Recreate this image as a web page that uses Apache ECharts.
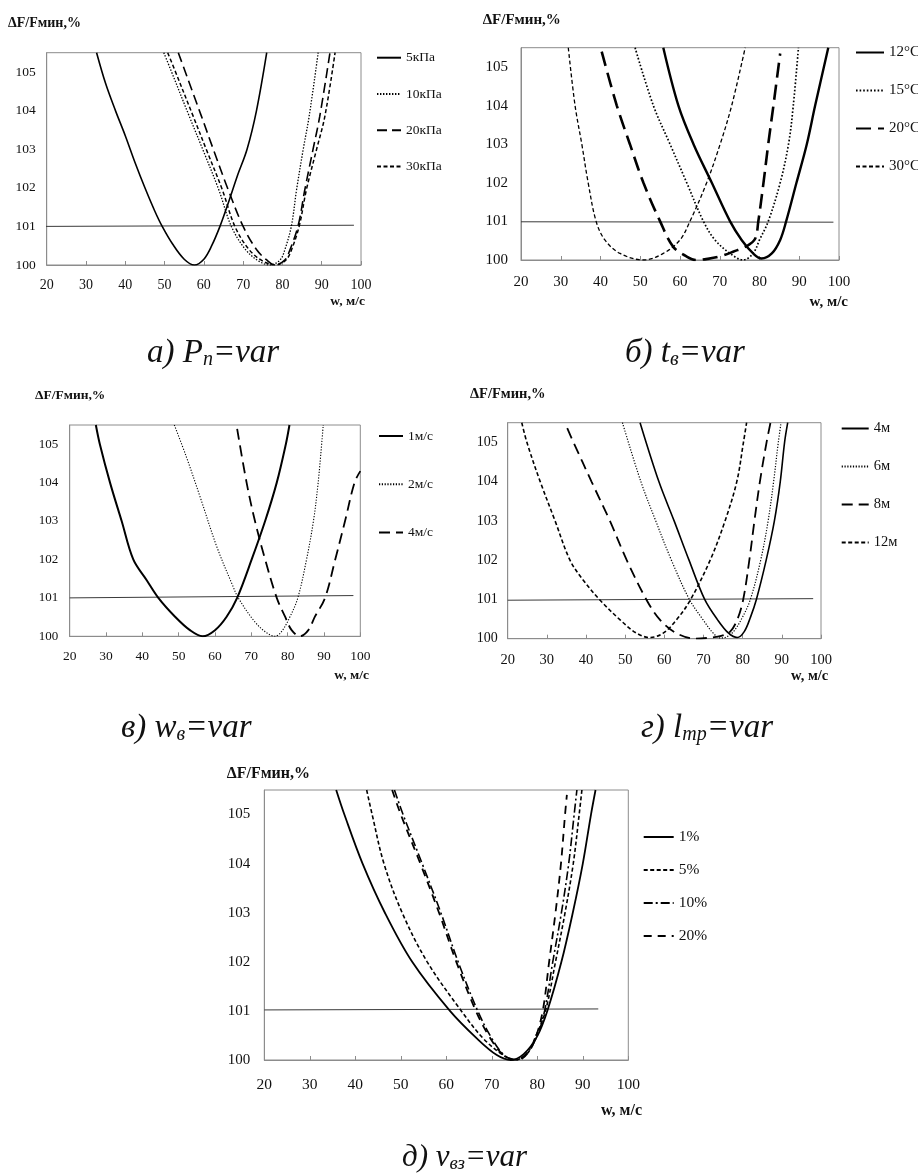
<!DOCTYPE html>
<html>
<head>
<meta charset="utf-8">
<script src="https://cdn.jsdelivr.net/npm/echarts@6/dist/echarts.min.js"></script>
<style>
  html, body { margin: 0; padding: 0; background: #fff; }
  #chart { width: 918px; height: 1173px; }
</style>
</head>
<body>
<div id="chart"></div>
<script>
// ΔF/Fмин (%) against air velocity w (м/с) for five varied parameters.

const xMin = 20, xMax = 100, xStep = 10;
const yMin = 100, yMax = 105.5, yStep = 1;
const yTitle = 'ΔF/Fмин,%';
const xTitle = 'w, м/с';

// а) Pп = var
const aNames = ['5кПа', '10кПа', '20кПа', '30кПа'];
const a5  = [[32.7,105.5],[35.0,104.7],[37.5,104.0],[40.0,103.35],[42.5,102.65],[45.0,102.0],[47.5,101.4],[49.4,101.0],[52.0,100.55],[55.0,100.15],[57.6,100.0],[60.0,100.15],[62.0,100.5],[64.1,101.0],[66.2,101.6],[68.5,102.3],[71.0,103.0],[73.4,104.0],[76.0,105.5]];
const a10 = [[49.8,105.5],[51.4,105.1],[56.3,103.85],[59.7,103.0],[63.8,101.95],[67.0,101.0],[70.6,100.4],[74.0,100.1],[76.8,100.0],[79.4,100.13],[80.6,100.39],[82.3,101.02],[83.6,101.95],[85.3,103.0],[86.8,103.85],[89.1,105.5]];
const a20 = [[53.5,105.5],[59.4,103.85],[62.4,103.0],[66.2,101.95],[70.0,101.0],[73.4,100.4],[76.0,100.13],[78.1,100.0],[80.6,100.13],[81.9,100.39],[84.0,101.02],[85.7,101.95],[87.8,103.0],[89.5,103.85],[92.1,105.5]];
const a30 = [[50.8,105.5],[52.4,105.1],[57.3,103.85],[60.6,103.0],[64.7,101.95],[67.9,101.0],[71.5,100.4],[75.0,100.1],[78.3,100.0],[80.9,100.13],[82.3,100.39],[84.3,101.02],[86.1,101.95],[88.7,103.0],[90.8,103.85],[93.4,105.5]];
const aLimit = [[19.0,101.0],[98.2,101.03]];

// б) tв = var
const bNames = ['12°C', '15°C', '20°C', '30°C'];
const b12 = [[55.8,105.5],[59.6,104.0],[63.4,103.0],[68.0,102.0],[72.6,101.0],[75.5,100.52],[78.4,100.17],[80.5,100.04],[83.1,100.17],[85.2,100.52],[86.7,101.0],[89.3,102.0],[91.9,103.0],[94.0,104.0],[97.3,105.5]];
const b15 = [[48.7,105.5],[53.3,104.0],[57.5,103.0],[61.7,102.0],[65.9,101.0],[68.8,100.52],[72.6,100.17],[75.9,100.0],[78.4,100.17],[80.0,100.52],[82.2,101.0],[85.2,102.0],[87.3,103.0],[88.5,104.0],[89.8,105.5]];
const b20 = [[40.3,105.4],[44.1,104.0],[47.4,103.0],[50.8,102.0],[55.0,101.0],[58.3,100.34],[61.7,100.09],[64.0,100.0],[67.0,100.03],[70.0,100.09],[73.5,100.22],[76.8,100.36],[78.9,100.55],[79.7,101.0],[81.0,102.0],[82.2,103.0],[83.5,104.0],[85.2,105.35]];
const b30 = [[31.9,105.5],[33.6,104.0],[35.3,103.0],[36.9,102.0],[38.9,101.0],[41.1,100.52],[44.9,100.17],[50.8,100.0],[55.8,100.17],[60.0,100.52],[62.5,101.0],[66.7,102.0],[70.1,103.0],[73.0,104.0],[76.4,105.5]];
const bLimit = [[20.0,100.99],[98.6,100.98]];

// в) wв = var
const cNames = ['1м/с', '2м/с', '4м/с'];
const c1 = [[27.2,105.5],[28.3,105.0],[31.1,104.0],[34.3,103.0],[37.5,102.0],[41.2,101.46],[44.4,101.0],[49.0,100.51],[53.1,100.16],[56.6,100.0],[60.0,100.16],[63.2,100.51],[66.1,101.0],[70.1,102.0],[73.8,103.0],[77.0,104.0],[79.5,105.0],[80.5,105.5]];
const c2 = [[48.8,105.5],[52.0,104.7],[55.9,103.63],[60.5,102.33],[65.0,101.29],[66.4,101.0],[70.6,100.42],[73.8,100.12],[76.5,100.0],[78.3,100.12],[80.6,100.5],[82.8,101.0],[85.2,102.0],[87.1,103.0],[88.4,104.0],[89.8,105.5]];
const c4 = [[66.1,105.4],[68.7,104.0],[71.0,103.0],[73.8,102.0],[77.0,101.0],[79.3,100.51],[81.1,100.16],[83.4,100.0],[85.7,100.16],[87.5,100.51],[90.3,101.0],[93.1,102.0],[95.8,103.0],[98.4,104.0],[100.0,104.3]];
const cLimit = [[20.0,101.0],[98.1,101.06]];

// г) lтр = var
const dNames = ['4м', '6м', '8м', '12м'];
const d4  = [[53.8,105.5],[58.6,104.0],[62.5,103.0],[66.3,102.0],[70.3,101.0],[73.6,100.48],[76.4,100.14],[78.6,100.03],[80.4,100.18],[82.0,100.55],[83.5,101.0],[86.0,102.0],[88.1,103.0],[89.6,104.0],[90.7,105.0],[91.5,105.5]];
const d6  = [[49.3,105.5],[54.0,104.0],[57.8,103.0],[61.8,102.0],[66.4,101.0],[69.9,100.48],[72.5,100.14],[74.3,100.02],[76.0,100.05],[77.8,100.2],[79.7,100.5],[81.9,100.98],[84.6,102.0],[86.5,103.0],[87.9,104.0],[89.1,105.0],[89.8,105.5]];
const d8  = [[35.2,105.36],[36.8,105.0],[41.4,104.0],[46.1,103.0],[50.4,102.0],[55.5,100.98],[58.9,100.48],[63.1,100.14],[68.0,100.0],[72.0,100.03],[74.5,100.07],[76.8,100.18],[78.6,100.48],[80.1,100.98],[81.7,102.0],[83.0,103.0],[84.4,104.0],[86.1,105.0],[87.1,105.5]];
const d12 = [[23.6,105.5],[24.9,105.0],[28.3,104.0],[32.1,103.0],[35.9,102.0],[39.3,101.49],[43.6,100.98],[48.7,100.48],[52.9,100.14],[56.3,100.03],[59.7,100.14],[63.1,100.48],[66.6,100.98],[71.7,102.0],[75.5,103.0],[78.5,104.0],[80.2,105.0],[81.0,105.5]];
const dLimit = [[20.0,100.98],[98.0,101.02]];

// д) vвз = var
const eNames = ['1%', '5%', '10%', '20%'];
const e1  = [[35.8,105.5],[37.6,105.0],[41.6,104.0],[46.5,103.0],[52.5,102.0],[60.8,101.0],[66.7,100.44],[71.1,100.1],[74.2,100.0],[77.0,100.12],[79.9,100.47],[82.2,101.0],[85.3,102.0],[87.8,103.0],[90.0,104.0],[91.8,105.0],[92.8,105.5]];
const e5  = [[42.5,105.5],[43.7,105.0],[46.3,104.0],[50.3,103.0],[55.8,102.0],[63.3,101.0],[68.1,100.44],[72.5,100.1],[75.0,100.0],[77.7,100.12],[79.5,100.45],[81.8,101.0],[84.0,102.0],[86.1,103.0],[87.9,104.0],[89.2,105.0],[89.8,105.5]];
const e10 = [[48.6,105.5],[50.5,105.0],[54.7,104.0],[58.8,103.0],[62.6,102.0],[66.9,101.0],[70.0,100.44],[72.7,100.1],[75.3,100.0],[77.8,100.15],[80.0,100.5],[81.6,101.0],[83.4,102.0],[85.3,103.0],[86.9,104.0],[88.1,105.0],[88.7,105.5]];
const e20 = [[48.1,105.5],[50.0,105.0],[54.3,104.0],[58.4,103.0],[62.2,102.0],[66.5,101.0],[69.7,100.44],[72.6,100.1],[75.8,100.0],[78.0,100.15],[79.6,100.45],[81.2,101.0],[82.6,102.0],[84.0,103.0],[85.2,104.0],[86.1,105.0],[86.5,105.4]];
const eLimit = [[20.0,101.02],[93.4,101.04]];

// Line looks
const SOLID = 'solid';
const DOT = [1.4, 1.6];
const SHORT = [4, 2.5];
const LONG = [10, 5];
const DASHDOT = [9, 3, 2, 3];

const FONT = '"Liberation Serif", "Times New Roman", serif';
const INK = '#111';
const FRAME = '#8c8c8c';

const panels = [
  {
    grid: { left: 46.7, top: 52.7, width: 314.3, height: 212.3 },
    yFont: 13.5, yMargin: 11, xFont: 14, xMargin: 13,
    curves: [
      { name: aNames[0], data: a5,  type: SOLID, width: 1.6 },
      { name: aNames[1], data: a10, type: DOT,   width: 1.3 },
      { name: aNames[2], data: a20, type: LONG,  width: 1.6 },
      { name: aNames[3], data: a30, type: SHORT, width: 1.5 }
    ],
    limit: aLimit, limitClip: false,
    legend: { left: 376, top: 50.7, itemWidth: 24, itemGap: 22.3, font: 13.5 },
    yTitle: { x: 8, y: 23.3, size: 14 },
    xTitle: { x: 365, y: 301.7, size: 13.5 },
    caption: { left: 147, top: 332, size: 33, rich: ['а) P', 'п', '=var'] }
  },
  {
    grid: { left: 521, top: 47.7, width: 318, height: 212.3 },
    yFont: 15, yMargin: 13, xFont: 15, xMargin: 15,
    curves: [
      { name: bNames[0], data: b12, type: SOLID,  width: 2.4 },
      { name: bNames[1], data: b15, type: [1.6, 2], width: 1.7 },
      { name: bNames[2], data: b20, type: [15, 7], width: 2.6 },
      { name: bNames[3], data: b30, type: [4, 2.5], width: 1.3 }
    ],
    limit: bLimit, limitClip: true,
    legend: { left: 855, top: 45, itemWidth: 28, itemGap: 23, font: 15 },
    yTitle: { x: 482.7, y: 20, size: 15 },
    xTitle: { x: 848, y: 302, size: 15 },
    caption: { left: 625, top: 332, size: 33, rich: ['б) t', 'в', '=var'] }
  },
  {
    grid: { left: 69.7, top: 425, width: 290.6, height: 211.3 },
    yFont: 13, yMargin: 11.5, xFont: 13.5, xMargin: 13,
    curves: [
      { name: cNames[0], data: c1, type: SOLID, width: 2 },
      { name: cNames[1], data: c2, type: [1.2, 1.6], width: 1.1 },
      { name: cNames[2], data: c4, type: [11, 6], width: 1.8 }
    ],
    limit: cLimit, limitClip: true,
    legend: { left: 378, top: 429, itemWidth: 24, itemGap: 34.3, font: 13.5 },
    yTitle: { x: 35, y: 396, size: 13.5 },
    xTitle: { x: 369, y: 676, size: 13.5 },
    caption: { left: 121, top: 707, size: 33, rich: ['в) w', 'в', '=var'] }
  },
  {
    grid: { left: 507.7, top: 422.7, width: 313.3, height: 216 },
    yFont: 14, yMargin: 10, xFont: 14.5, xMargin: 14,
    curves: [
      { name: dNames[0], data: d4,  type: SOLID, width: 1.6 },
      { name: dNames[1], data: d6,  type: [1.2, 1.6], width: 1.2 },
      { name: dNames[2], data: d8,  type: [11, 6], width: 1.8 },
      { name: dNames[3], data: d12, type: [4, 2.5], width: 1.6 }
    ],
    limit: dLimit, limitClip: true,
    legend: { left: 840.7, top: 421, itemWidth: 27, itemGap: 23, font: 14.5 },
    yTitle: { x: 470, y: 394, size: 14.5 },
    xTitle: { x: 828.3, y: 676.7, size: 14.5 },
    caption: { left: 641, top: 707, size: 33, rich: ['г) l', 'тр', '=var'] }
  },
  {
    grid: { left: 264.3, top: 790, width: 364, height: 270 },
    yFont: 15, yMargin: 14, xFont: 15.5, xMargin: 17,
    curves: [
      { name: eNames[0], data: e1,  type: SOLID,   width: 1.8 },
      { name: eNames[1], data: e5,  type: [4, 2.5], width: 1.6 },
      { name: eNames[2], data: e10, type: DASHDOT, width: 1.6 },
      { name: eNames[3], data: e20, type: [8, 6],  width: 1.8 }
    ],
    limit: eLimit, limitClip: true,
    legend: { left: 642.7, top: 829, itemWidth: 30, itemGap: 17, font: 15.5 },
    yTitle: { x: 226.7, y: 774, size: 16 },
    xTitle: { x: 642, y: 1110.7, size: 16 },
    caption: { left: 402, top: 1137, size: 31, rich: ['д) v', 'вз', '=var'] }
  }
];

const option = {
  backgroundColor: '#fff',
  animation: false,
  grid: [], xAxis: [], yAxis: [], series: [], legend: [], title: [], graphic: []
};

panels.forEach((p, i) => {
  option.grid.push(Object.assign({
    show: true, borderColor: FRAME, borderWidth: 1,
    backgroundColor: 'transparent', containLabel: false, outerBoundsMode: 'none'
  }, p.grid));

  option.xAxis.push({
    gridIndex: i, type: 'value', min: xMin, max: xMax, interval: xStep,
    axisLine: { show: true, lineStyle: { color: FRAME, width: 1 } },
    axisTick: { show: true, inside: true, length: 4, lineStyle: { color: FRAME } },
    splitLine: { show: false },
    axisLabel: { color: INK, fontFamily: FONT, fontSize: p.xFont, margin: p.xMargin,
                 showMinLabel: true, showMaxLabel: true, hideOverlap: false }
  });

  option.yAxis.push({
    gridIndex: i, type: 'value', min: yMin, max: yMax, interval: yStep,
    axisLine: { show: true, lineStyle: { color: FRAME, width: 1 } },
    axisTick: { show: false },
    splitLine: { show: false },
    axisLabel: { color: INK, fontFamily: FONT, fontSize: p.yFont, margin: p.yMargin,
                 formatter: v => (Number.isInteger(v) ? String(v) : '') }
  });

  option.series.push({
    name: 'limit-' + i, type: 'line', xAxisIndex: i, yAxisIndex: i,
    data: p.limit, symbol: 'none', silent: true, clip: p.limitClip,
    lineStyle: { color: '#3a3a3a', width: 1, type: 'solid' }, z: 1
  });

  p.curves.forEach(c => {
    option.series.push({
      name: c.name, type: 'line', xAxisIndex: i, yAxisIndex: i,
      data: c.data, symbol: 'none', showSymbol: false, smooth: 0.35, silent: true,
      lineStyle: { color: '#000', width: c.width, type: c.type, cap: 'butt' },
      itemStyle: { color: '#000' }, z: 3
    });
  });

  // legend keys show only the line pattern, no marker
  option.legend.push({
    data: p.curves.map(c => c.name),
    orient: 'vertical', left: p.legend.left, top: p.legend.top, padding: 0,
    itemWidth: p.legend.itemWidth, itemHeight: 14, itemGap: p.legend.itemGap,
    selectedMode: false,
    itemStyle: { opacity: 0, color: 'transparent', borderColor: 'transparent', borderWidth: 0 },
    textStyle: { color: INK, fontFamily: FONT, fontSize: p.legend.font, lineHeight: 14 }
  });

  option.graphic.push({
    type: 'text', x: p.yTitle.x, y: p.yTitle.y, silent: true,
    style: { text: yTitle, fill: INK, font: 'bold ' + p.yTitle.size + 'px ' + FONT,
             textAlign: 'left', textVerticalAlign: 'middle' }
  });
  option.graphic.push({
    type: 'text', x: p.xTitle.x, y: p.xTitle.y, silent: true,
    style: { text: xTitle, fill: INK, font: 'bold ' + p.xTitle.size + 'px ' + FONT,
             textAlign: 'right', textVerticalAlign: 'middle' }
  });

  const [head, sub, tail] = p.caption.rich;
  const cs = p.caption.size;
  option.title.push({
    left: p.caption.left, top: p.caption.top, padding: 0,
    text: '{m|' + head + '}{s|' + sub + '}{m|' + tail + '}',
    textStyle: {
      fontWeight: 'normal',
      rich: {
        m: { fontFamily: FONT, fontStyle: 'italic', fontWeight: 'normal', fontSize: cs,
             color: INK, lineHeight: cs + 5, verticalAlign: 'bottom' },
        s: { fontFamily: FONT, fontStyle: 'italic', fontWeight: 'normal', fontSize: Math.round(cs * 0.6),
             color: INK, lineHeight: Math.round(cs * 0.6), verticalAlign: 'bottom' }
      }
    }
  });
});

const chart = echarts.init(document.getElementById('chart'), null, { renderer: 'canvas' });
chart.setOption(option);
</script>
</body>
</html>
